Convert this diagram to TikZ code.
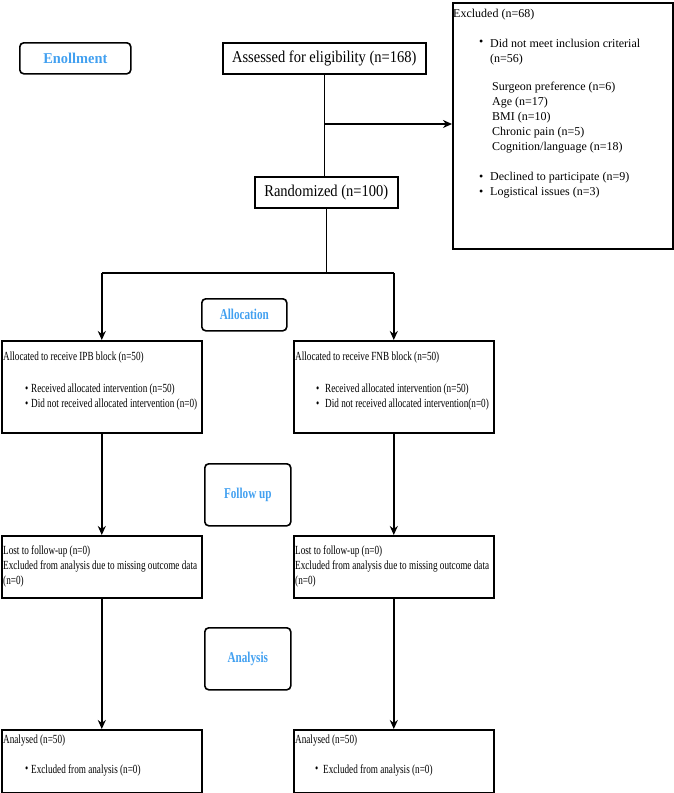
\documentclass[tikz,border=0pt]{standalone}
\usepackage{fontspec}
\setmainfont{Liberation Serif}
\newfontfamily\fA[FakeStretch=0.88]{Liberation Serif}
\newfontfamily\fB[FakeStretch=0.74]{Liberation Serif}
\newfontfamily\fC[FakeStretch=0.745]{Liberation Serif}
\newfontfamily\fD[FakeStretch=0.96]{Liberation Serif}
\usetikzlibrary{arrows.meta}
\definecolor{lblue}{RGB}{66,160,240}
\tikzset{
  box/.style={draw, line width=1.6pt, rectangle, inner sep=0pt, anchor=north west},
  stage/.style={draw, line width=1.6pt, rectangle, rounded corners=4pt, inner sep=0pt, anchor=north west},
  txt/.style={anchor=west, inner sep=0pt},
  conn/.style={line width=1.6pt},
  arr/.style={line width=1.6pt, -{Stealth[length=9pt,width=8pt]}},
  big/.style={font=\fA\fontsize{16.5}{19}\selectfont},
  small/.style={font=\fB\fontsize{12.4}{15}\selectfont},
  excl/.style={font=\fontsize{12}{15}\selectfont},
  lab/.style={font=\fC\bfseries\fontsize{15}{18}\selectfont, text=lblue},
}
\begin{document}
\begin{tikzpicture}[x=1pt,y=-1pt]
\useasboundingbox (0,0) rectangle (674,793);

% stage labels
\node[stage, minimum width=111pt, minimum height=31pt] (enr) at (19,42) {};
\node[lab, font=\fD\bfseries\fontsize{15}{18}\selectfont] at (enr.center) {Enollment};
\node[stage, minimum width=85pt, minimum height=32pt] (alloc) at (201,298) {};
\node[lab] at (alloc.center) {Allocation};
\node[stage, minimum width=86pt, minimum height=62pt] (fol) at (204,463) {};
\node[lab] at (fol.center) {Follow up};
\node[stage, minimum width=86pt, minimum height=62pt] (ana) at (204,627) {};
\node[lab] at (ana.center) {Analysis};

% top boxes
\node[box, minimum width=203pt, minimum height=31pt] (ass) at (222,42) {};
\node[big] at (ass.center) {Assessed for eligibility (n=168)};
\node[box, minimum width=143pt, minimum height=31pt] (rand) at (254,176) {};
\node[big] at (rand.center) {Randomized (n=100)};

% excluded
\node[box, minimum width=220pt, minimum height=246pt] (exc) at (452,2) {};
\begin{scope}[every node/.style={txt, excl}]
\node at (453,15) {Excluded (n=68)};
\node at (479,43) {•};
\node at (490,43) {Did not meet inclusion criterial};
\node at (490,60) {(n=56)};
\node at (492,88) {Surgeon preference (n=6)};
\node at (492,103) {Age (n=17)};
\node at (492,118) {BMI (n=10)};
\node at (492,133) {Chronic pain (n=5)};
\node at (492,148) {Cognition/language (n=18)};
\node at (479,178) {•};
\node at (490,178) {Declined to participate (n=9)};
\node at (479,193) {•};
\node at (490,193) {Logistical issues (n=3)};
\end{scope}

% allocation boxes
\node[box, minimum width=200pt, minimum height=92pt] (la) at (1,340) {};
\node[box, minimum width=200pt, minimum height=92pt] (ra) at (293,340) {};
\node[box, minimum width=200pt, minimum height=62pt] (lf) at (1,535) {};
\node[box, minimum width=200pt, minimum height=62pt] (rf) at (293,535) {};
\node[box, minimum width=200pt, minimum height=63pt] (ln) at (1,729) {};
\node[box, minimum width=200pt, minimum height=63pt] (rn) at (293,729) {};

\begin{scope}[every node/.style={txt, small}]
\node at (3,358) {Allocated to receive IPB block (n=50)};
\node at (25,390) {•};
\node at (31,390) {Received allocated intervention (n=50)};
\node at (25,405) {•};
\node at (31,405) {Did not received allocated intervention (n=0)};
\node at (295,358) {Allocated to receive FNB block (n=50)};
\node at (316,390) {•};
\node at (325,390) {Received allocated intervention (n=50)};
\node at (316,405) {•};
\node at (325,405) {Did not received allocated intervention(n=0)};

\node at (3,551) {Lost to follow-up (n=0)};
\node at (3,566) {Excluded from analysis due to missing outcome data};
\node at (3,582) {(n=0)};
\node at (295,551) {Lost to follow-up (n=0)};
\node at (295,566) {Excluded from analysis due to missing outcome data};
\node at (295,582) {(n=0)};

\node at (3,741) {Analysed (n=50)};
\node at (25,770) {•};
\node at (31,770) {Excluded from analysis (n=0)};
\node at (295,741) {Analysed (n=50)};
\node at (315,770) {•};
\node at (323,770) {Excluded from analysis (n=0)};
\end{scope}

% connectors
\coordinate (br) at (ass.south |- 0,124);
\draw[conn] (ass.south) -- (ass.south |- rand.north);
\draw[arr] (br) -- (br -| exc.west);
\coordinate (split) at (rand.south |- 0,273);
\draw[conn] (rand.south) -- (split);
\draw[conn] (split -| la.north) -- (split -| ra.north);
\draw[arr] (split -| la.north) -- (la.north);
\draw[arr] (split -| ra.north) -- (ra.north);
\draw[arr] (la.south) -- (lf.north);
\draw[arr] (ra.south) -- (rf.north);
\draw[arr] (lf.south) -- (ln.north);
\draw[arr] (rf.south) -- (rn.north);
\end{tikzpicture}
\end{document}
